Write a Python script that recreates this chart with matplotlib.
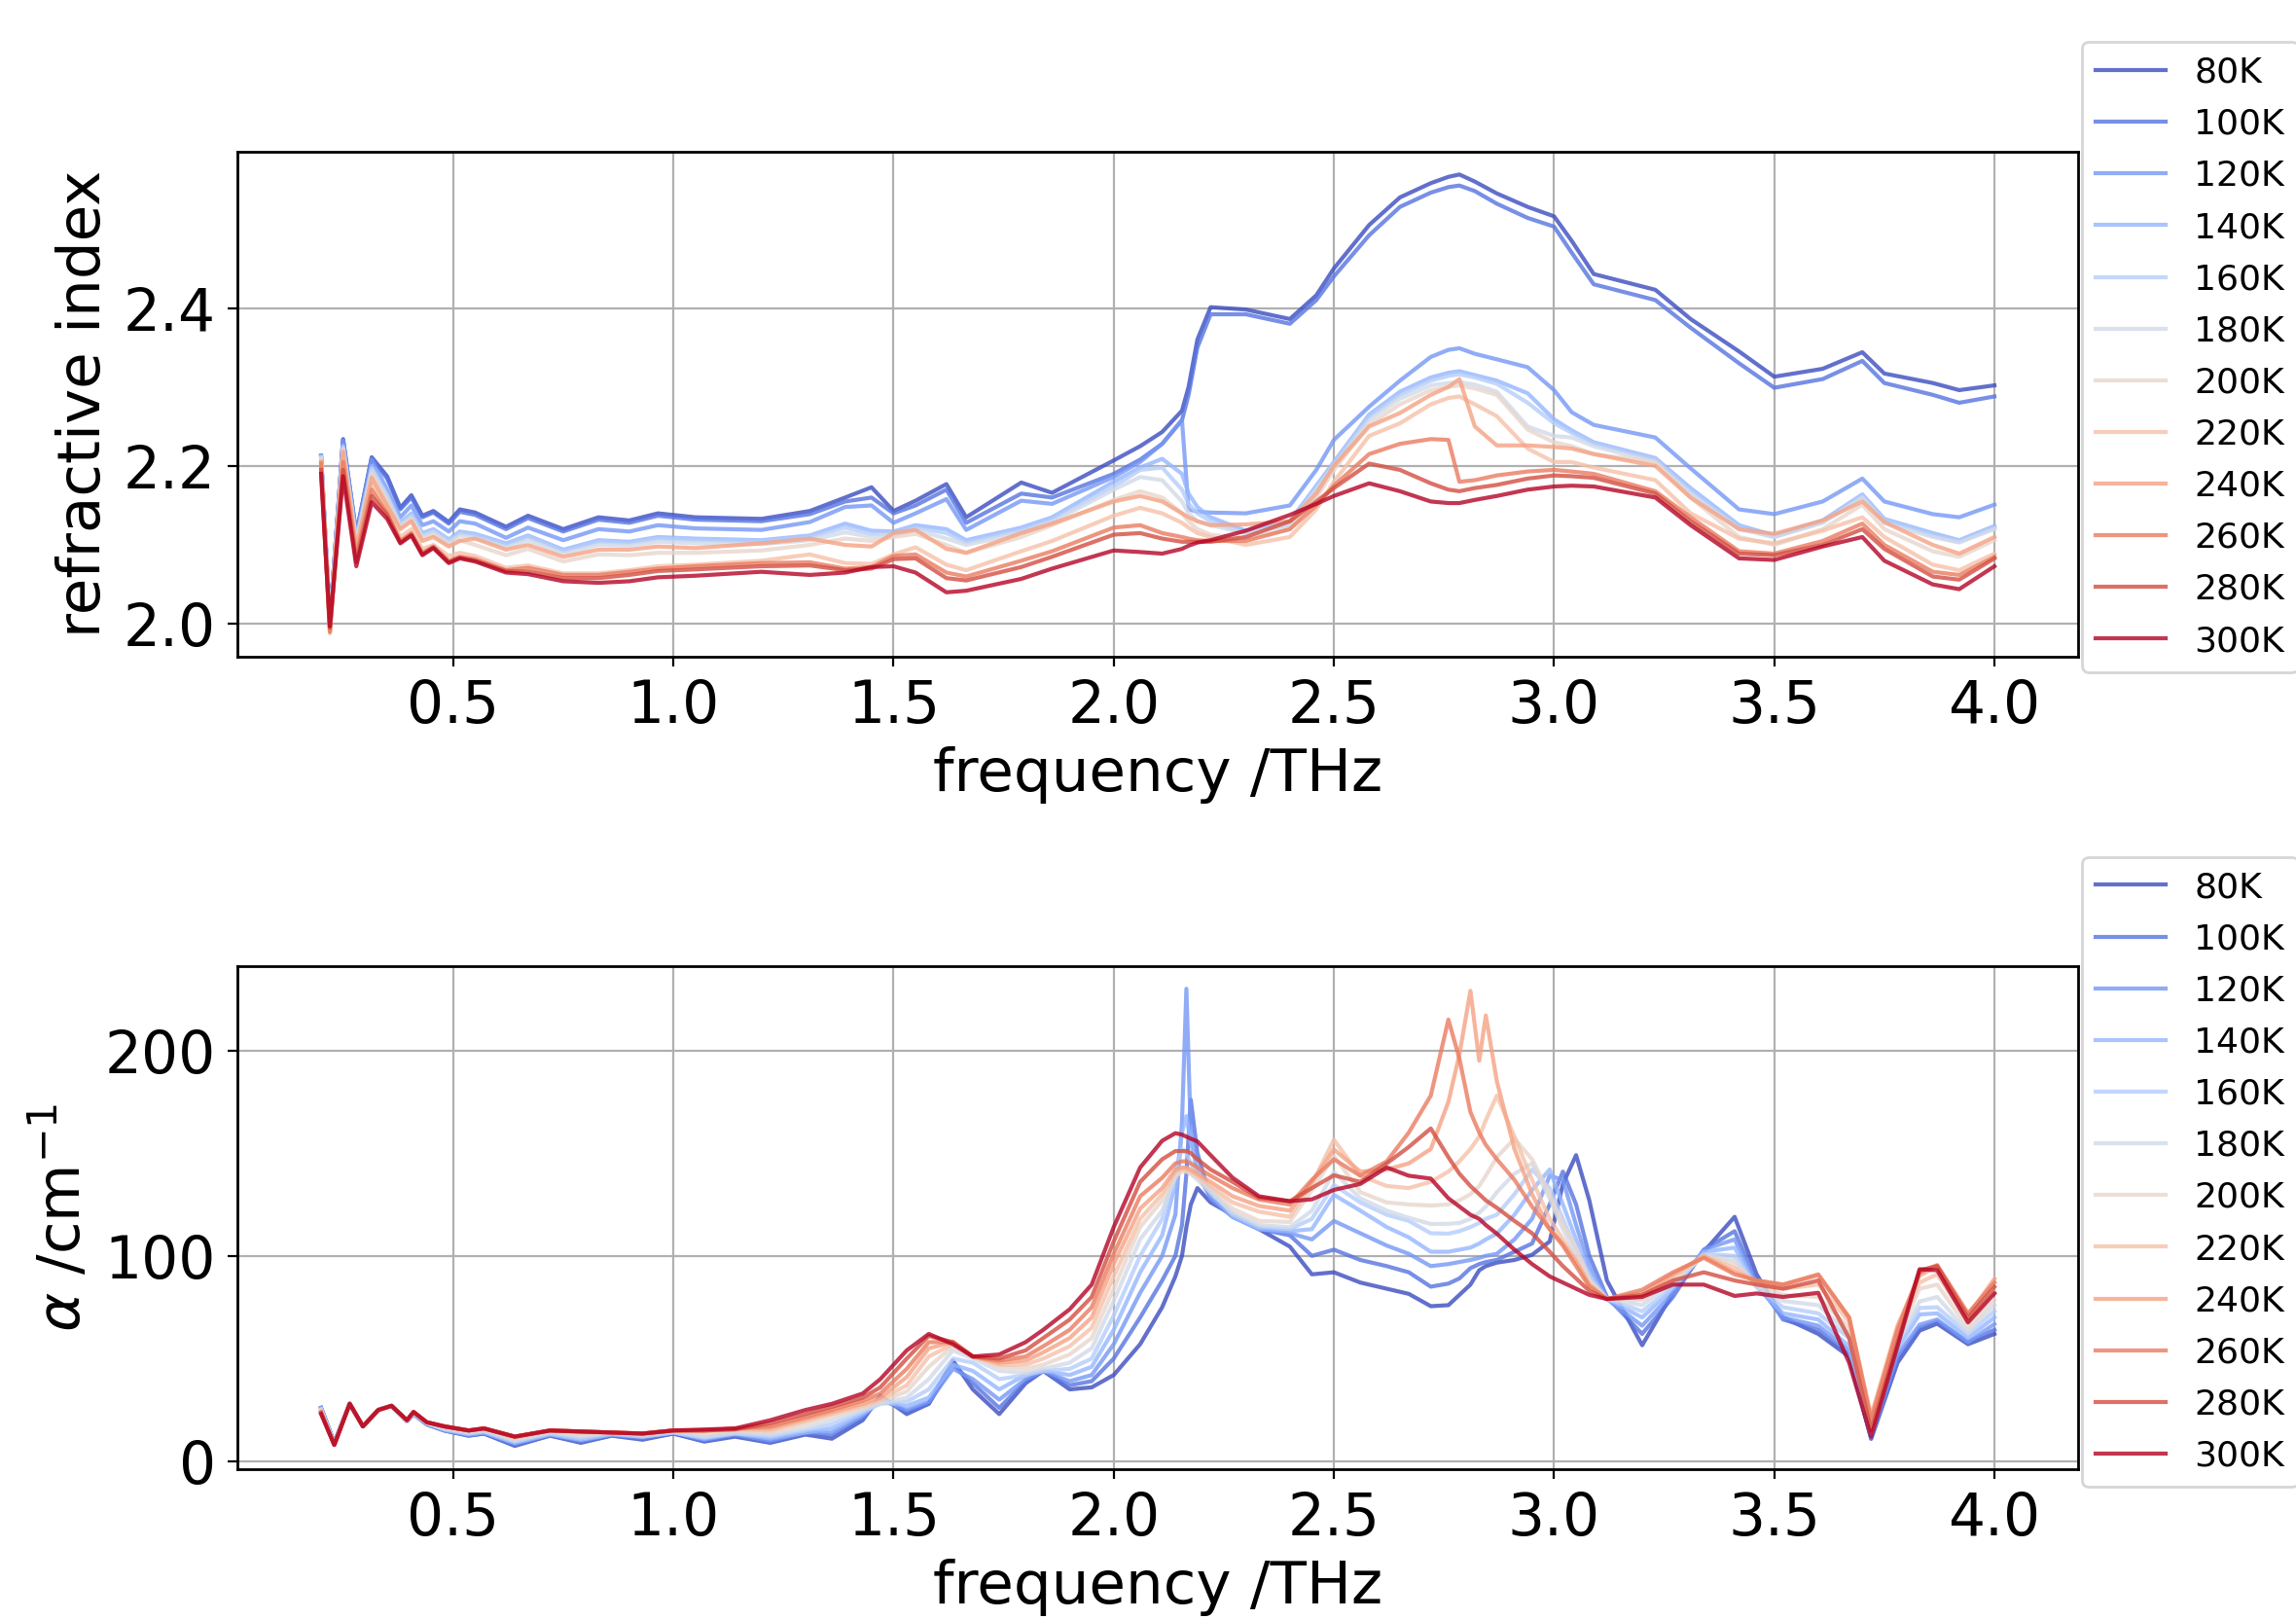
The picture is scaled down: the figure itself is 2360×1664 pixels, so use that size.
import numpy as np
import matplotlib.pyplot as plt
from matplotlib import cm

temps = ["80K", "100K", "120K", "140K", "160K", "180K",
         "200K", "220K", "240K", "260K", "280K", "300K"]

# refractive index, frequency grid (THz)
f_n = [0.20, 0.22, 0.25, 0.28, 0.315, 0.35, 0.38, 0.405, 0.43, 0.455,
       0.49, 0.515, 0.55, 0.62, 0.67, 0.75, 0.83, 0.90, 0.965, 1.05,
       1.20, 1.31, 1.39, 1.45, 1.50, 1.55, 1.62, 1.665, 1.79, 1.86,
       2.00, 2.06, 2.11, 2.155, 2.17, 2.19, 2.22, 2.30, 2.40, 2.46,
       2.50, 2.58, 2.65, 2.72, 2.76, 2.785, 2.82, 2.87, 2.94, 3.00,
       3.04, 3.09, 3.23, 3.31, 3.42, 3.50, 3.61, 3.70, 3.75, 3.86,
       3.92, 4.00]

n_80 = [2.213, 2.003, 2.234, 2.114, 2.211, 2.187, 2.147, 2.163, 2.137, 2.143,
        2.129, 2.145, 2.141, 2.123, 2.137, 2.120, 2.135, 2.131, 2.140, 2.135,
        2.133, 2.143, 2.160, 2.173, 2.143, 2.156, 2.177, 2.135, 2.179, 2.166,
        2.207, 2.225, 2.243, 2.270, 2.300, 2.360, 2.401, 2.398, 2.386, 2.416,
        2.450, 2.505, 2.540, 2.558, 2.566, 2.569, 2.560, 2.545, 2.528, 2.516,
        2.485, 2.443, 2.423, 2.386, 2.345, 2.313, 2.323, 2.344, 2.317, 2.305,
        2.296, 2.302]
n_100 = [2.212, 2.003, 2.233, 2.113, 2.210, 2.184, 2.145, 2.160, 2.135, 2.141,
         2.127, 2.142, 2.138, 2.120, 2.134, 2.117, 2.132, 2.128, 2.137, 2.132,
         2.130, 2.139, 2.155, 2.160, 2.140, 2.150, 2.170, 2.128, 2.165, 2.160,
         2.190, 2.208, 2.228, 2.258, 2.290, 2.350, 2.392, 2.392, 2.380, 2.410,
         2.440, 2.492, 2.528, 2.546, 2.553, 2.555, 2.548, 2.532, 2.514, 2.503,
         2.470, 2.430, 2.410, 2.375, 2.330, 2.299, 2.310, 2.333, 2.305, 2.290,
         2.280, 2.288]
n_120 = [2.213, 2.003, 2.232, 2.112, 2.208, 2.170, 2.135, 2.150, 2.125, 2.130,
         2.117, 2.130, 2.127, 2.109, 2.122, 2.106, 2.120, 2.117, 2.125, 2.121,
         2.119, 2.129, 2.148, 2.150, 2.128, 2.140, 2.158, 2.119, 2.156, 2.152,
         2.186, 2.205, 2.228, 2.258, 2.145, 2.142, 2.141, 2.140, 2.150, 2.195,
         2.233, 2.275, 2.308, 2.338, 2.347, 2.349, 2.342, 2.335, 2.325, 2.296,
         2.268, 2.252, 2.236, 2.197, 2.145, 2.139, 2.155, 2.184, 2.155, 2.139,
         2.135, 2.151]
n_140 = [2.212, 2.000, 2.226, 2.108, 2.200, 2.165, 2.128, 2.140, 2.115, 2.120,
         2.107, 2.117, 2.114, 2.102, 2.112, 2.094, 2.106, 2.104, 2.110, 2.108,
         2.106, 2.112, 2.127, 2.118, 2.117, 2.125, 2.120, 2.106, 2.122, 2.135,
         2.180, 2.198, 2.209, 2.190, 2.165, 2.148, 2.135, 2.118, 2.130, 2.175,
         2.205, 2.265, 2.294, 2.312, 2.318, 2.320, 2.315, 2.308, 2.292, 2.259,
         2.245, 2.230, 2.210, 2.172, 2.125, 2.112, 2.131, 2.164, 2.133, 2.115,
         2.106, 2.124]
n_160 = [2.211, 1.999, 2.224, 2.106, 2.197, 2.163, 2.126, 2.138, 2.113, 2.118,
         2.105, 2.115, 2.112, 2.100, 2.110, 2.092, 2.104, 2.102, 2.108, 2.106,
         2.104, 2.110, 2.122, 2.114, 2.114, 2.122, 2.115, 2.103, 2.119, 2.132,
         2.174, 2.195, 2.198, 2.170, 2.152, 2.140, 2.130, 2.115, 2.126, 2.172,
         2.203, 2.262, 2.290, 2.308, 2.314, 2.316, 2.312, 2.304, 2.280, 2.254,
         2.242, 2.228, 2.208, 2.168, 2.122, 2.110, 2.129, 2.162, 2.131, 2.112,
         2.104, 2.122]
n_180 = [2.210, 1.998, 2.222, 2.104, 2.194, 2.160, 2.124, 2.135, 2.110, 2.116,
         2.103, 2.112, 2.109, 2.097, 2.106, 2.089, 2.100, 2.099, 2.104, 2.102,
         2.101, 2.106, 2.116, 2.110, 2.112, 2.119, 2.108, 2.100, 2.115, 2.129,
         2.170, 2.186, 2.182, 2.155, 2.140, 2.130, 2.125, 2.115, 2.125, 2.170,
         2.200, 2.258, 2.285, 2.302, 2.305, 2.306, 2.303, 2.294, 2.250, 2.238,
         2.236, 2.225, 2.205, 2.165, 2.120, 2.110, 2.128, 2.160, 2.128, 2.110,
         2.103, 2.120]
n_200 = [2.208, 1.995, 2.220, 2.100, 2.190, 2.155, 2.122, 2.132, 2.108, 2.113,
         2.100, 2.106, 2.100, 2.087, 2.095, 2.079, 2.088, 2.087, 2.090, 2.090,
         2.093, 2.100, 2.108, 2.105, 2.110, 2.114, 2.100, 2.090, 2.110, 2.125,
         2.157, 2.168, 2.160, 2.140, 2.130, 2.120, 2.113, 2.108, 2.120, 2.160,
         2.195, 2.252, 2.278, 2.296, 2.300, 2.302, 2.298, 2.290, 2.246, 2.230,
         2.225, 2.215, 2.205, 2.160, 2.110, 2.100, 2.120, 2.151, 2.120, 2.092,
         2.085, 2.106]
n_220 = [2.205, 1.988, 2.215, 2.090, 2.178, 2.145, 2.110, 2.120, 2.095, 2.100,
         2.086, 2.090, 2.086, 2.071, 2.074, 2.064, 2.064, 2.068, 2.073, 2.075,
         2.080, 2.088, 2.077, 2.076, 2.088, 2.097, 2.075, 2.068, 2.092, 2.105,
         2.137, 2.147, 2.140, 2.128, 2.122, 2.115, 2.110, 2.100, 2.110, 2.145,
         2.180, 2.238, 2.254, 2.278, 2.286, 2.288, 2.278, 2.263, 2.222, 2.205,
         2.205, 2.198, 2.182, 2.140, 2.108, 2.102, 2.118, 2.135, 2.110, 2.075,
         2.068, 2.089]
n_240 = [2.205, 1.990, 2.218, 2.095, 2.185, 2.150, 2.120, 2.130, 2.105, 2.110,
         2.098, 2.105, 2.108, 2.094, 2.100, 2.085, 2.094, 2.094, 2.098, 2.096,
         2.102, 2.108, 2.100, 2.098, 2.115, 2.119, 2.095, 2.090, 2.115, 2.127,
         2.155, 2.162, 2.155, 2.140, 2.135, 2.130, 2.125, 2.126, 2.130, 2.165,
         2.200, 2.250, 2.267, 2.290, 2.300, 2.310, 2.250, 2.226, 2.226, 2.224,
         2.222, 2.215, 2.200, 2.160, 2.120, 2.114, 2.131, 2.155, 2.129, 2.100,
         2.089, 2.110]
n_260 = [2.203, 1.990, 2.205, 2.085, 2.170, 2.140, 2.105, 2.115, 2.090, 2.098,
         2.080, 2.085, 2.082, 2.068, 2.071, 2.062, 2.062, 2.066, 2.070, 2.073,
         2.077, 2.078, 2.070, 2.072, 2.086, 2.088, 2.065, 2.060, 2.080, 2.092,
         2.122, 2.125, 2.115, 2.110, 2.108, 2.106, 2.105, 2.105, 2.120, 2.150,
         2.175, 2.215, 2.228, 2.234, 2.233, 2.180, 2.182, 2.188, 2.193, 2.195,
         2.193, 2.190, 2.168, 2.135, 2.092, 2.089, 2.105, 2.127, 2.100, 2.066,
         2.062, 2.085]
n_280 = [2.195, 1.995, 2.195, 2.078, 2.162, 2.138, 2.103, 2.113, 2.088, 2.097,
         2.078, 2.084, 2.080, 2.067, 2.066, 2.058, 2.058, 2.062, 2.067, 2.069,
         2.073, 2.074, 2.068, 2.070, 2.082, 2.083, 2.058, 2.055, 2.072, 2.085,
         2.113, 2.115, 2.108, 2.104, 2.104, 2.104, 2.104, 2.110, 2.130, 2.155,
         2.172, 2.203, 2.195, 2.178, 2.170, 2.168, 2.172, 2.176, 2.184, 2.188,
         2.187, 2.185, 2.165, 2.130, 2.089, 2.087, 2.100, 2.120, 2.095, 2.060,
         2.056, 2.083]
n_300 = [2.190, 1.997, 2.187, 2.073, 2.154, 2.133, 2.102, 2.112, 2.087, 2.096,
         2.077, 2.083, 2.079, 2.065, 2.063, 2.054, 2.052, 2.054, 2.059, 2.061,
         2.066, 2.062, 2.065, 2.072, 2.073, 2.065, 2.040, 2.042, 2.057, 2.070,
         2.093, 2.091, 2.089, 2.095, 2.099, 2.103, 2.106, 2.118, 2.138, 2.152,
         2.162, 2.178, 2.168, 2.155, 2.153, 2.153, 2.157, 2.162, 2.170, 2.174,
         2.175, 2.174, 2.160, 2.125, 2.083, 2.081, 2.098, 2.110, 2.080, 2.050,
         2.044, 2.073]

# absorption coefficient, frequency grid (THz)
f_a = [0.20, 0.23, 0.265, 0.295, 0.33, 0.36, 0.395, 0.41, 0.44, 0.48,
       0.535, 0.57, 0.64, 0.72, 0.79, 0.86, 0.93, 1.00, 1.07, 1.14,
       1.22, 1.30, 1.36, 1.43, 1.47, 1.53, 1.58, 1.635, 1.68, 1.74,
       1.80, 1.84, 1.90, 1.95, 2.00, 2.06, 2.11, 2.14, 2.155, 2.165,
       2.175, 2.19, 2.22, 2.27, 2.33, 2.40, 2.45, 2.50, 2.56, 2.62,
       2.67, 2.72, 2.76, 2.785, 2.81, 2.83, 2.845, 2.87, 2.91, 2.95,
       2.99, 3.02, 3.05, 3.08, 3.12, 3.20, 3.27, 3.34, 3.41, 3.46,
       3.52, 3.60, 3.67, 3.72, 3.78, 3.83, 3.87, 3.94, 4.00]

a_80 = [26, 9, 28, 17, 25, 27, 19.5, 23, 18, 15,
        12.5, 13.5, 7.5, 12.5, 9, 12.5, 10.5, 13.5, 9.6, 12,
        9, 13, 11, 20, 32, 23, 28, 49, 35, 23,
        38, 44, 35, 36, 42, 57, 75, 90, 100, 114,
        125, 133, 126, 120, 113, 104.5, 91, 92, 87, 84,
        81.5, 75.5, 76, 81, 86, 93, 95, 96.7, 98, 100.5,
        107, 135, 149, 127, 88, 56.5, 82, 102, 119, 91,
        70, 62, 51, 11, 48, 63.6, 67, 57, 62]
a_100 = [26, 9, 28, 17, 25, 27, 19.5, 23, 18, 15,
         12.5, 13.5, 8, 12.5, 9.5, 12.5, 11, 13.5, 10, 12.5,
         9.5, 13.5, 12.5, 21, 31, 24, 28, 47, 38, 26,
         39, 44, 37, 39, 50, 70, 88, 100, 115, 140,
         176, 150, 128, 119, 113, 110, 100, 103, 98, 95,
         92, 85, 86.5, 89, 94, 96, 97, 98, 102, 106,
         125, 141, 125, 100, 80, 62, 80, 103, 112, 88,
         69, 64, 52, 11, 50, 65, 68, 58, 64]
a_120 = [26, 9, 28, 17, 25, 27, 19.5, 23, 18, 15,
         13, 14, 8.5, 13, 10, 13, 11.5, 14, 10.5, 13,
         10, 14, 14, 22, 30, 25, 29, 45, 40, 30,
         40, 44, 39, 42, 57, 82, 100, 120, 165, 230,
         160, 140, 128, 119, 113, 111, 108, 117, 111, 105,
         101, 95, 96, 97, 98, 99, 100, 101, 108, 118,
         139, 137, 115, 95, 79, 66, 82, 103, 108, 86,
         70, 66, 54, 12, 52, 66.5, 69, 58, 66.8]
a_140 = [25.5, 8.5, 28, 17, 25, 27, 19.5, 23, 18.5, 15.5,
         13, 14, 9, 13, 10.5, 13, 12, 14, 11, 13.5,
         11, 14, 16, 23, 29, 27, 31, 47, 44, 35,
         42, 44, 42, 46, 64, 92, 110, 135, 160, 168,
         155, 142, 130, 119, 113, 112, 113, 129.7, 122, 114,
         109, 102, 102, 103, 104, 106, 108, 110.8, 120, 132,
         142, 125, 108, 92, 79, 70, 84, 102, 104, 85,
         72, 69, 56, 13, 55, 71.5, 72, 60, 70]
a_160 = [25.5, 8.5, 28, 17, 25, 27, 19.5, 23.5, 18.5, 15.5,
         13.5, 14.5, 9.5, 13.5, 11, 13.5, 12, 14, 11.5, 13.5,
         12, 15, 18, 24, 28, 29, 35, 50, 48, 40,
         42, 44, 45, 50, 71, 100, 118, 142, 152, 150,
         145, 140, 132, 120, 114, 113, 118, 134.5, 126, 120,
         117, 111, 110.8, 112, 114, 116, 118, 120, 130, 142,
         133, 118, 103, 90, 79, 73, 85, 101, 100, 85,
         75, 72, 60, 14, 57, 74.6, 75, 62, 73]
a_180 = [25, 8.5, 28, 17, 25, 27, 19.5, 23.5, 18.5, 16,
         14, 15, 10, 14, 12, 14, 12.5, 14.5, 12, 14,
         13, 16, 20, 25, 28, 31, 40, 54, 50, 44,
         43, 45, 48, 55, 78, 108, 122, 138, 143, 142,
         140, 137, 131, 121, 115, 114, 122, 140.8, 128, 122,
         118.5, 115.5, 115.6, 116, 118, 121, 124, 131, 140, 145,
         128, 113, 100, 88, 79, 76, 87, 100, 98, 85,
         78, 76, 62, 15, 58, 77.8, 80, 63, 76]
a_200 = [24.5, 8, 28, 17, 25, 27, 20, 24, 19, 16.5,
         14.5, 15.5, 11, 14.5, 13, 14, 13, 15, 13.5, 15,
         14, 18, 22, 26, 29, 34, 46, 56, 51, 46,
         45, 47, 52, 60, 84, 114, 127, 139, 141, 141,
         140, 138, 133, 123, 117, 116.5, 132, 148.6, 131, 126,
         125, 124.5, 125, 127, 130, 134, 139, 148, 157, 147,
         130, 115, 104, 88, 79, 78.5, 88, 100, 96, 86,
         81, 80, 65, 17, 60, 84, 86, 65, 78.5]
a_220 = [24, 8, 28, 17, 25, 27, 20, 24, 19, 17,
         15, 16, 11.5, 15, 14, 14, 13, 15, 14.5, 15.5,
         15, 19.5, 23, 27, 30, 37, 51, 57, 51, 47,
         47, 50, 56, 65, 90, 118, 130, 141, 142, 142,
         141, 139, 134, 126, 121.5, 119, 135, 156.5, 139, 134,
         133, 136, 141, 146, 152, 158, 166, 178, 158, 137,
         118, 108, 98, 86, 79, 80, 90, 100, 94, 87,
         84, 86, 68, 19, 63, 87, 91, 68, 82.5]
a_240 = [24, 8, 28, 17, 25, 27, 20, 24, 19, 17,
         15, 16, 12, 15, 14.5, 14, 13.5, 15, 15, 16,
         16, 20.5, 24, 28, 31, 41, 55, 58, 51, 48,
         49, 53, 60, 70, 96, 123, 133, 142, 143, 143,
         142, 140, 136, 129, 124.3, 122, 136, 151.8, 141, 142,
         145, 152, 175, 198, 229, 195, 217, 185, 152, 130,
         113, 106, 97, 86, 79, 82, 91, 99.8, 92, 88,
         86, 90.5, 70, 22, 66, 90.4, 95, 71, 88.8]
a_260 = [24, 8, 28, 17, 25, 27, 20, 24, 19, 17,
         15, 16, 12, 15, 14.5, 14, 13.5, 15, 15, 16,
         17, 21.5, 25, 29.5, 33, 45, 58, 58, 51, 49,
         51, 56, 64, 75, 101, 129, 138, 145, 146, 146,
         145, 143, 139, 133, 127.4, 125, 137, 147, 139, 146,
         160, 178, 215, 196, 170, 160, 154, 147, 137, 124,
         113, 105, 95, 85, 79, 83.5, 92, 99, 91, 88,
         86, 91, 70, 20, 64, 92, 95.5, 72, 87]
a_280 = [23.5, 8, 28, 17, 25, 27, 20, 24, 19, 17,
         15, 16, 12, 15, 14.5, 14, 13.5, 15, 15, 15.5,
         18.5, 23, 26.5, 31, 36, 50, 61, 58, 51, 50,
         54, 60, 69, 80, 107, 136, 147, 151, 151, 151,
         150, 147, 142, 136, 128.2, 126.6, 133, 139.2, 136, 145,
         153, 162, 148, 140, 134, 130, 127, 123.4, 117, 111,
         102, 95, 89, 83, 79, 81, 88, 92, 88, 86,
         84, 88, 60, 15, 58, 93, 95, 70, 84.9]
a_300 = [23, 8, 28, 17, 25, 27, 20, 24, 19, 17,
         15, 16, 12, 15, 14.5, 14, 13.5, 15, 15.5, 16,
         20, 25, 28, 33, 40, 54, 62, 57, 51, 52,
         58, 64, 74, 86, 114, 143, 156, 159.7, 159, 158,
         157, 155.7, 149, 138, 129, 126.6, 127.5, 132.1, 135, 143,
         139, 137.6, 128, 124, 120, 118, 115, 110.8, 103, 96,
         90, 87, 84, 81, 79, 80, 86, 86, 80.5, 81.7,
         80, 82, 48, 12, 56, 93.5, 93, 67.6, 81.7]

n_curves = [n_80, n_100, n_120, n_140, n_160, n_180,
            n_200, n_220, n_240, n_260, n_280, n_300]
a_curves = [a_80, a_100, a_120, a_140, a_160, a_180,
            a_200, a_220, a_240, a_260, a_280, a_300]

colors = cm.coolwarm(np.linspace(0, 1, len(temps)))

fig = plt.figure(figsize=(11.8, 8.32), dpi=200)
ax1 = fig.add_axes([0.1034, 0.5946, 0.8017, 0.3118])
ax2 = fig.add_axes([0.1034, 0.0928, 0.8017, 0.3106])

for ax, f, curves in [(ax1, f_n, n_curves), (ax2, f_a, a_curves)]:
    for lab, c, y in zip(temps, colors, curves):
        ax.plot(f, y, color=c, alpha=0.8, lw=1.5, label=lab)
    ax.grid(True)
    ax.set_xticks([0.5, 1.0, 1.5, 2.0, 2.5, 3.0, 3.5, 4.0])
    ax.tick_params(labelsize=21.5, pad=4.5)
    ax.set_xlabel('frequency /THz', fontsize=22)
    ax.legend(loc='upper left', bbox_to_anchor=(1.002, 1.217),
              borderaxespad=0, fontsize=13, labelspacing=0.53)
    for s in ax.spines.values():
        s.set_linewidth(1.0)

ax1.set_yticks([2.0, 2.2, 2.4])
ax1.set_ylabel('refractive index', fontsize=22)
ax2.set_yticks([0, 100, 200])
ax2.set_ylabel(r'$\alpha$ /cm$^{-1}$', fontsize=22)

fig.savefig('out.png', dpi=200)
